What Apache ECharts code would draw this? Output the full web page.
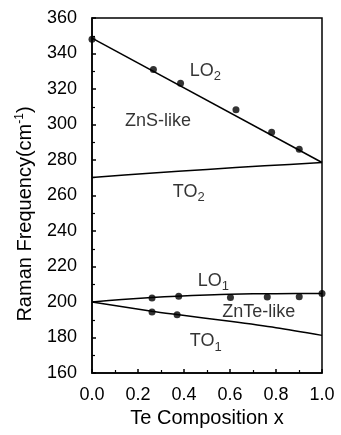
<!DOCTYPE html>
<html lang="en">
<head>
    <meta charset="UTF-8">
    <title>Raman frequency vs Te composition</title>
    <script src="https://cdn.jsdelivr.net/npm/echarts@6/dist/echarts.min.js"></script>
    <style>
        html, body { margin: 0; padding: 0; background: #fff; }
        #main { width: 341px; height: 435px; }
    </style>
</head>
<body>
    <div id="main"></div>
    <script type="text/javascript">
        // measured points (Te composition, frequency)
        var lo2X = [0, 0.267, 0.385, 0.626, 0.781, 0.901];
        var lo2Y = [348, 331, 323.2, 308.3, 295.6, 286];
        var lo1X = [0.261, 0.377, 0.602, 0.762, 0.901, 1.0];
        var lo1Y = [202.3, 203.2, 202.6, 202.8, 203.0, 204.8];
        var to1X = [0.261, 0.37];
        var to1Y = [194.4, 192.8];

        // fitted curves
        var lo2LineX = [0, 1];
        var lo2LineY = [348.7, 278.6];
        var to2LineX = [0, 0.25, 0.5, 0.75, 1];
        var to2LineY = [270.2, 272.6, 274.7, 276.7, 278.6];
        var lo1LineX = [0, 0.13, 0.26, 0.37, 0.5, 0.6, 0.8, 1.0];
        var lo1LineY = [200, 201.4, 202.5, 203.3, 204.0, 204.4, 204.7, 204.8];
        var to1LineX = [0, 0.26, 0.37, 0.6, 0.8, 1.0];
        var to1LineY = [200, 194.8, 192.9, 189.1, 185.5, 181.2];

        // in-plot annotations
        var noteText = ['{m|LO}{s|2}', '{m|ZnS-like}', '{m|TO}{s|2}', '{m|LO}{s|1}', '{m|ZnTe-like}', '{m|TO}{s|1}'];
        var noteX = [0.425, 0.143, 0.351, 0.46, 0.566, 0.425];
        var noteY = [330.3, 302.1, 262.1, 212, 194.5, 178];

        function zip(xs, ys) {
            return xs.map(function (x, i) { return [x, ys[i]]; });
        }

        var font = 'Liberation Sans, Arial, Helvetica, sans-serif';
        var myChart = echarts.init(document.getElementById('main'));

        var lineStyle = { color: '#000', width: 1.5 };
        var dotStyle = { color: '#000' };

        var option = {
            backgroundColor: '#fff',
            animation: false,
            grid: {
                left: 92, right: 19, top: 18, bottom: 62,
                show: true, borderColor: '#000', borderWidth: 1.5,
                backgroundColor: 'transparent'
            },
            xAxis: {
                type: 'value', min: 0, max: 1, interval: 0.2,
                name: 'Te Composition x', nameLocation: 'middle', nameGap: 28,
                nameTextStyle: { color: '#000', fontSize: 20, fontFamily: font },
                axisLine: { lineStyle: { color: '#000', width: 1.5 } },
                axisTick: { inside: true, length: 4, lineStyle: { color: '#000', width: 1.5 } },
                minorTick: { show: true, splitNumber: 2, length: 3, lineStyle: { color: '#000', width: 1.2 } },
                splitLine: { show: false },
                axisLabel: {
                    color: '#000', fontSize: 18, fontFamily: font, margin: 13,
                    formatter: function (v) { return v.toFixed(1); }
                }
            },
            yAxis: {
                type: 'value', min: 160, max: 360, interval: 20,
                axisLine: { show: true, lineStyle: { color: '#000', width: 1.5 } },
                axisTick: { show: true, inside: true, length: 4, lineStyle: { color: '#000', width: 1.5 } },
                minorTick: { show: true, splitNumber: 2, length: 3, lineStyle: { color: '#000', width: 1.2 } },
                splitLine: { show: false },
                axisLabel: { color: '#000', fontSize: 18, fontFamily: font, margin: 15 }
            },
            graphic: [{
                type: 'text',
                x: 25, y: 214,
                rotation: Math.PI / 2,
                style: {
                    text: '{m|Raman Frequency(cm}{p|-1}{m|)}',
                    align: 'center', verticalAlign: 'middle',
                    fill: '#000',
                    rich: {
                        m: { fontSize: 20, fontFamily: font, fill: '#000' },
                        p: { fontSize: 12, fontFamily: font, fill: '#000', padding: [0, 0, 10, 0] }
                    }
                }
            }],
            series: [
                { type: 'line', data: zip(lo2LineX, lo2LineY), symbol: 'none', lineStyle: lineStyle },
                { type: 'line', data: zip(to2LineX, to2LineY), symbol: 'none', smooth: 0.3, lineStyle: lineStyle },
                { type: 'line', data: zip(lo1LineX, lo1LineY), symbol: 'none', smooth: 0.3, lineStyle: lineStyle },
                { type: 'line', data: zip(to1LineX, to1LineY), symbol: 'none', smooth: 0.3, lineStyle: lineStyle },
                { type: 'scatter', data: zip(lo2X, lo2Y), symbolSize: 7, itemStyle: dotStyle },
                { type: 'scatter', data: zip(lo1X, lo1Y), symbolSize: 7, itemStyle: dotStyle },
                { type: 'scatter', data: zip(to1X, to1Y), symbolSize: 7, itemStyle: dotStyle },
                {
                    type: 'scatter', symbolSize: 0, silent: true,
                    data: noteX.map(function (x, i) { return [x, noteY[i], noteText[i]]; }),
                    label: {
                        show: true, position: 'right', distance: 0,
                        formatter: function (p) { return p.value[2]; },
                        rich: {
                            m: { fontSize: 18, fontFamily: font, color: '#000' },
                            s: { fontSize: 13, fontFamily: font, color: '#000', padding: [12, 0, 0, 0] }
                        }
                    }
                }
            ]
        };

        myChart.setOption(option);
    </script>
</body>
</html>
